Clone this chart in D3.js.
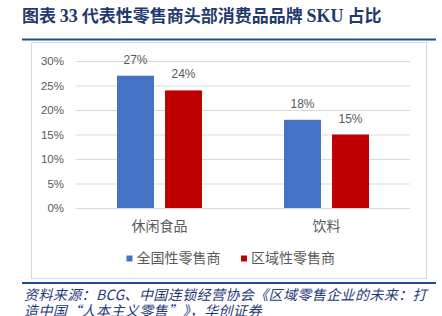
<!DOCTYPE html>
<html>
<head>
<meta charset="utf-8">
<script src="https://cdn.jsdelivr.net/npm/d3@7"></script>
<style>
  body { margin: 0; background: #fff; }
  svg { display: block; }
</style>
</head>
<body>
<div id="chart"></div>
<script>
// chart data
const categories = ['休闲食品', '饮料'];
const seriesNames = ['全国性零售商', '区域性零售商'];
const nationalValues = [27, 18];
const regionalValues = [24, 15];
const yTicks = [0, 5, 10, 15, 20, 25, 30];

const colors = ['#4472c4', '#c00000'];
const cjk = '"Noto Sans CJK SC", "Noto Sans", sans-serif';

const svg = d3.select('#chart')
    .append('svg')
    .attr('width', 442)
    .attr('height', 316);

// title
const title = svg.append('text')
    .attr('x', 22)
    .attr('y', 22)
    .attr('fill', '#1f3a6e')
    .attr('font-size', 17)
    .attr('font-weight', 'bold')
    .attr('font-family', cjk);
title.append('tspan').text('图表 ');
title.append('tspan').attr('font-family', '"Liberation Serif", serif').attr('font-size', 18).text('33');
title.append('tspan').text(' 代表性零售商头部消费品品牌 ');
title.append('tspan').attr('font-family', '"Liberation Serif", serif').attr('font-size', 18).text('SKU');
title.append('tspan').text(' 占比');

svg.append('line')
    .attr('x1', 22).attr('x2', 436)
    .attr('y1', 39.5).attr('y2', 39.5)
    .attr('stroke', '#1f4e8c')
    .attr('stroke-width', 2);

// chart frame
svg.append('rect')
    .attr('x', 31.5).attr('y', 42.5)
    .attr('width', 395).attr('height', 236)
    .attr('fill', 'none')
    .attr('stroke', '#d9d9d9');

// scales
const x0 = d3.scaleBand()
    .domain(categories)
    .range([76, 410]);

const x1 = d3.scaleBand()
    .domain(seriesNames)
    .range([41, 126])
    .paddingInner(0.23);

const y = d3.scaleLinear()
    .domain([0, 30])
    .range([208, 61]);

// gridlines + y axis
const yAxis = svg.append('g')
    .attr('transform', 'translate(76,0)')
    .call(d3.axisLeft(y)
        .tickValues(yTicks)
        .tickSize(-334)
        .tickPadding(12)
        .tickFormat(d => d + '%'));
yAxis.select('.domain').remove();
yAxis.selectAll('line').attr('stroke', '#d9d9d9');
yAxis.selectAll('text')
    .attr('fill', '#595959')
    .attr('font-size', 11.5)
    .attr('font-family', '"Liberation Sans", Arial, sans-serif');

// bars
const rows = categories.map((c, i) => ({
    cat: c,
    values: [nationalValues[i], regionalValues[i]]
}));

const groups = svg.selectAll('.grp')
    .data(rows)
    .enter()
    .append('g')
    .attr('transform', d => `translate(${x0(d.cat)},0)`);

groups.selectAll('rect')
    .data(d => d.values.map((v, j) => ({ name: seriesNames[j], v, j })))
    .enter()
    .append('rect')
    .attr('x', d => x1(d.name))
    .attr('y', d => y(d.v))
    .attr('width', x1.bandwidth())
    .attr('height', d => y(0) - y(d.v))
    .attr('fill', d => colors[d.j]);

groups.selectAll('.lbl')
    .data(d => d.values.map((v, j) => ({ name: seriesNames[j], v, j })))
    .enter()
    .append('text')
    .attr('x', d => x1(d.name) + x1.bandwidth() / 2)
    .attr('y', d => y(d.v) - 12)
    .attr('text-anchor', 'middle')
    .attr('fill', '#595959')
    .attr('font-size', 12)
    .attr('font-family', '"Liberation Sans", Arial, sans-serif')
    .text(d => d.v + '%');

// x axis line
svg.append('line')
    .attr('x1', 76).attr('x2', 410)
    .attr('y1', y(0) + 0.5).attr('y2', y(0) + 0.5)
    .attr('stroke', '#d9d9d9');

// category labels
svg.selectAll('.cat')
    .data(categories)
    .enter()
    .append('text')
    .attr('x', d => x0(d) + x0.bandwidth() / 2)
    .attr('y', 231)
    .attr('text-anchor', 'middle')
    .attr('fill', '#595959')
    .attr('font-size', 14)
    .attr('font-family', cjk)
    .text(d => d);

// legend
const legendX = [126.5, 241];
const legend = svg.selectAll('.leg')
    .data(seriesNames)
    .enter()
    .append('g')
    .attr('transform', (d, i) => `translate(${legendX[i]},0)`);
legend.append('rect')
    .attr('x', 0).attr('y', 255.5)
    .attr('width', 6).attr('height', 6)
    .attr('fill', (d, i) => colors[i]);
legend.append('text')
    .attr('x', 10)
    .attr('y', 263)
    .attr('fill', '#595959')
    .attr('font-size', 14)
    .attr('font-family', cjk)
    .text(d => d);

// source
svg.append('line')
    .attr('x1', 22).attr('x2', 436)
    .attr('y1', 283).attr('y2', 283)
    .attr('stroke', '#1f4e8c')
    .attr('stroke-width', 2);

const srcLines = [
    '资料来源：BCG、中国连锁经营协会《区域零售企业的未来：打',
    '造中国“人本主义零售”》，华创证券'
];
svg.selectAll('.src')
    .data(srcLines)
    .enter()
    .append('text')
    .attr('x', 24)
    .attr('y', (d, i) => 300 + i * 16)
    .attr('fill', '#1f3a7a')
    .attr('font-size', 14)
    .attr('letter-spacing', 0.4)
    .attr('font-style', 'italic')
    .attr('font-family', cjk)
    .text(d => d);
</script>
</body>
</html>
